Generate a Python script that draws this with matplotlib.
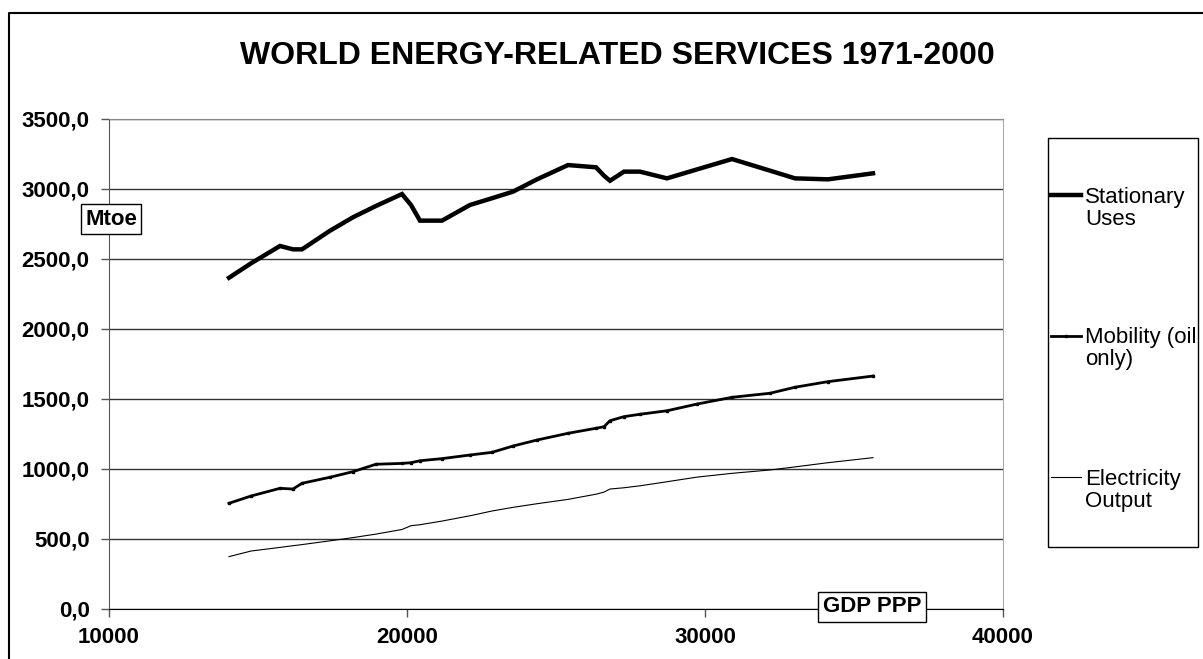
import matplotlib.pyplot as plt
from matplotlib.lines import Line2D
from matplotlib.patches import Rectangle

plt.rcParams['font.family'] = ['Liberation Sans', 'DejaVu Sans']

# GDP PPP (x) for each year, 1971-2000
gdp = [14027, 14765, 15738, 16174, 16477, 17416, 18188, 18960, 19832, 20134,
       20436, 21174, 22114, 22852, 23557, 24362, 25403, 26342, 26611, 26812,
       27282, 27819, 28725, 29732, 30906, 32181, 33020, 34128, 35638]

# Mtoe
stationary = [2366, 2469, 2593, 2569, 2569, 2702, 2798, 2879, 2964, 2886,
              2774, 2774, 2886, 2934, 2981, 3069, 3171, 3155, 3095, 3059,
              3124, 3124, 3076, 3140, 3214, 3131, 3076, 3069, 3112]
mobility = [755, 807, 862, 857, 898, 941, 981, 1034, 1040, 1045,
            1059, 1074, 1100, 1119, 1164, 1207, 1255, 1291, 1302, 1345,
            1374, 1391, 1416, 1464, 1512, 1541, 1584, 1624, 1664]
electricity = [374, 414, 440, 452, 460, 487, 510, 535, 568, 595,
               602, 628, 666, 700, 726, 752, 783, 820, 835, 857,
               866, 880, 909, 942, 969, 993, 1015, 1045, 1081]

series_names = ['Stationary\nUses', 'Mobility (oil\nonly)', 'Electricity\nOutput']

yticks = [0, 500, 1000, 1500, 2000, 2500, 3000, 3500]
xticks = [10000, 20000, 30000, 40000]

W, H = 1203, 659
fig = plt.figure(figsize=(W / 100, H / 100), dpi=100)
ax = fig.add_axes([109 / W, 50 / H, 894 / W, 490 / H])

ax.plot(gdp, stationary, color='black', lw=3.2, solid_joinstyle='miter')
ax.plot(gdp, mobility, color='black', lw=2.0, marker='s', markersize=2)
ax.plot(gdp, electricity, color='black', lw=0.8)

ax.set_xlim(10000, 40000)
ax.set_ylim(0, 3500)
ax.set_xticks(xticks)
ax.set_yticks(yticks)
ax.set_xticklabels([str(v) for v in xticks], fontsize=16, fontweight='bold')
ax.set_yticklabels([f'{v},0' for v in yticks], fontsize=16, fontweight='bold')
ax.tick_params(axis='both', direction='out', length=6, width=1, color='#555555')
ax.tick_params(axis='x', pad=7)
ax.tick_params(axis='y', pad=8)

ax.yaxis.grid(True, color='#333333', lw=1)
ax.set_axisbelow(True)
ax.spines['top'].set_color('#888888')
ax.spines['right'].set_color('#aaaaaa')
ax.spines['left'].set_color('#555555')
ax.spines['bottom'].set_color('black')

fig.text(617 / W, 1 - 56 / H, 'WORLD ENERGY-RELATED SERVICES 1971-2000',
         ha='center', va='center', fontsize=23, fontweight='bold')

# axis unit labels in small boxes
box = dict(boxstyle='square,pad=0.2', fc='white', ec='black', lw=1)
fig.text(111 / W, 1 - 219 / H, 'Mtoe', ha='center', va='center',
         fontsize=16, fontweight='bold', bbox=box)
fig.text(872 / W, 1 - 607 / H, 'GDP PPP', ha='center', va='center',
         fontsize=16, fontweight='bold', bbox=box)

# outer chart frame (top and left edges)
fig.add_artist(Line2D([9 / W, 9 / W, 1.0], [0.0, 1 - 13 / H, 1 - 13 / H],
                      transform=fig.transFigure, color='black', lw=1.5))

# legend box
fig.add_artist(Rectangle((1048 / W, 1 - 547 / H), 150 / W, 409 / H,
                         transform=fig.transFigure, fc='white', ec='black', lw=1))
handle_y = [195, 336, 477]
handle_lw = [3.2, 2.0, 0.8]
for name, hy, lw, mk in zip(series_names, handle_y, handle_lw, [None, 's', None]):
    yf = 1 - hy / H
    fig.add_artist(Line2D([1051 / W, 1081 / W], [yf, yf], transform=fig.transFigure,
                          color='black', lw=lw))
    if mk:
        fig.add_artist(Line2D([1066 / W], [yf], transform=fig.transFigure,
                              color='black', marker=mk, markersize=2))
    for i, part in enumerate(name.split('\n')):
        fig.text(1085 / W, 1 - (hy + 2 + 22 * i) / H, part, ha='left', va='center',
                 fontsize=16)

fig.savefig('out.png', dpi=100)
